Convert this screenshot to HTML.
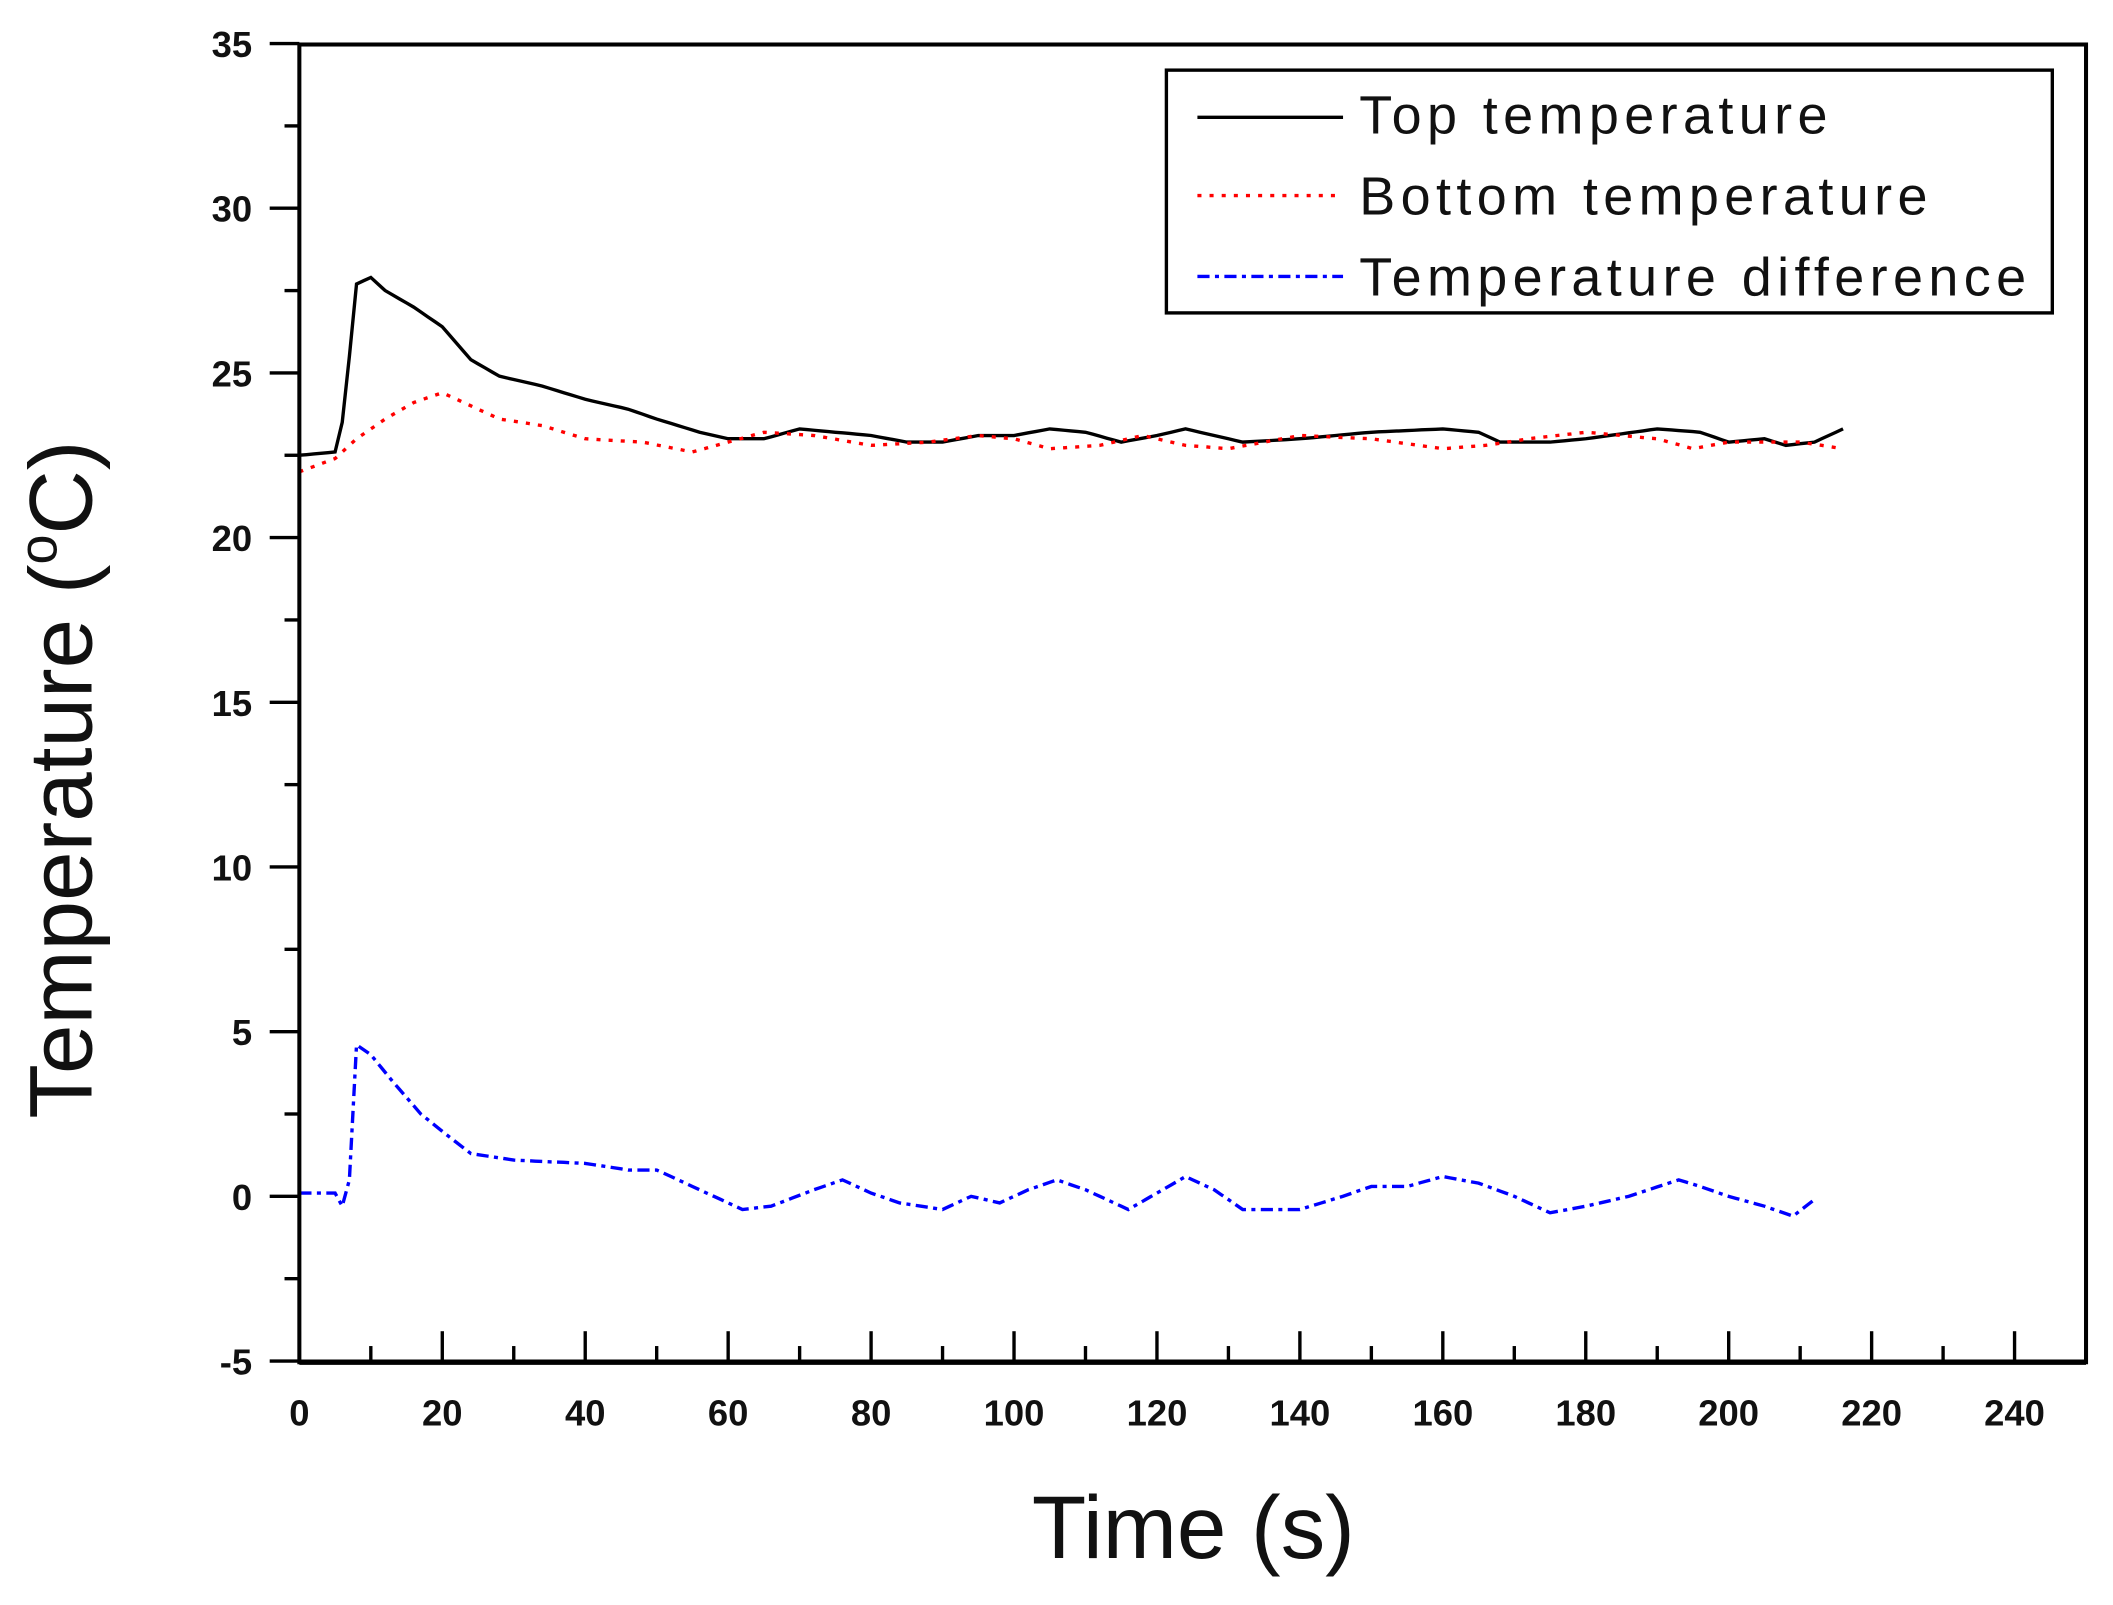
<!DOCTYPE html>
<html><head><meta charset="utf-8"><style>
html,body{margin:0;padding:0;background:#fff}
svg{display:block}
text{font-family:"Liberation Sans",Arial,sans-serif;fill:#111}
</style></head><body>
<svg id="s" width="2113" height="1605" viewBox="0 0 1567 1190" preserveAspectRatio="none" xmlns="http://www.w3.org/2000/svg">
<rect width="1567" height="1190" fill="#fff"/>
<g id="ticks" stroke="#000" stroke-width="2.5"></g>
<g id="series"></g>
<rect x="222" y="33" width="1325" height="977" fill="none" stroke="#000" stroke-width="3"/>
<line x1="222" y1="1010" x2="1547" y2="1010" stroke="#000" stroke-width="4"/>
<g id="labels" font-size="27" font-weight="bold"></g>
<rect x="865" y="52" width="657" height="180" fill="#fff" stroke="#000" stroke-width="2.5"/>
<line x1="888" y1="87" x2="996" y2="87" stroke="#000" stroke-width="2.5"/>
<line x1="888" y1="145" x2="996" y2="145" stroke="#f00" stroke-width="2.5" stroke-dasharray="3 6"/>
<line x1="888" y1="205" x2="996" y2="205" stroke="#00f" stroke-width="2.5" stroke-dasharray="9 4 3 4"/>
<text x="1008" y="99" font-size="40" letter-spacing="4">Top temperature</text>
<text x="1008" y="159" font-size="40" letter-spacing="4">Bottom temperature</text>
<text x="1008" y="219" font-size="40" letter-spacing="4">Temperature difference</text>
<text x="885" y="1155" font-size="66" text-anchor="middle">Time (s)</text>
<text transform="translate(68,578) rotate(-90)" font-size="66" text-anchor="middle">Temperature (<tspan font-size="40" dy="-26">o</tspan><tspan dy="26">C)</tspan></text>
</svg>
<script>
var NS="http://www.w3.org/2000/svg";
function X(t){return 222+t*5.3}
function Y(v){return 887-v*24.42}
var tk=document.getElementById('ticks'),lb=document.getElementById('labels');
function el(p,n,a,txt){var e=document.createElementNS(NS,n);for(var k in a)e.setAttribute(k,a[k]);if(txt!=null)e.textContent=txt;p.appendChild(e);return e}
for(var v=-5;v<=35;v+=2.5){var y=Y(v),maj=(v%5===0);
 el(tk,'line',{x1:maj?200:211,y1:y,x2:222,y2:y});
 if(maj)el(lb,'text',{x:187,y:y+10,'text-anchor':'end'},String(v));}
for(var t=0;t<=250;t+=10){var x=X(t),maj=(t%20===0);
 el(tk,'line',{x1:x,y1:1010,x2:x,y2:maj?987:998});
 if(maj&&t<=240)el(lb,'text',{x:x,y:1057,'text-anchor':'middle'},String(t));}
function interp(pts,step){var o=[];for(var i=0;i<pts.length-1;i++){var a=pts[i],b=pts[i+1];for(var t=a[0];t<b[0];t+=step){o.push([t,a[1]+(b[1]-a[1])*(t-a[0])/(b[0]-a[0])])}}o.push(pts[pts.length-1]);return o}
function path(pts,col,dash){var d=pts.map(function(p,i){return (i?'L':'M')+X(p[0]).toFixed(1)+' '+Y(p[1]).toFixed(1)}).join('');
 var a={d:d,fill:'none',stroke:col,'stroke-width':2.5};if(dash)a['stroke-dasharray']=dash;el(document.getElementById('series'),'path',a)}
var sTop=[[0,22.5],[5,22.6],[6,23.5],[7,25.5],[8,27.7],[10,27.9],[12,27.5],[16,27],[20,26.4],[24,25.4],[28,24.9],[34,24.6],[40,24.2],[46,23.9],[50,23.6],[56,23.2],[60,23],[65,23],[70,23.3],[80,23.1],[85,22.9],[90,22.9],[95,23.1],[100,23.1],[105,23.3],[110,23.2],[115,22.9],[120,23.1],[124,23.3],[128,23.1],[132,22.9],[140,23],[150,23.2],[160,23.3],[165,23.2],[168,22.9],[175,22.9],[180,23],[190,23.3],[196,23.2],[200,22.9],[205,23],[208,22.8],[212,22.9],[216,23.3]];
var sBot=[[0,22],[5,22.4],[8,23],[12,23.6],[16,24.1],[20,24.4],[24,24],[28,23.6],[34,23.4],[40,23],[48,22.9],[55,22.6],[60,22.9],[65,23.2],[72,23.1],[80,22.8],[88,22.9],[95,23.1],[100,23],[105,22.7],[112,22.8],[118,23.1],[124,22.8],[130,22.7],[140,23.1],[150,23],[160,22.7],[166,22.8],[172,23],[180,23.2],[190,23],[195,22.7],[200,22.9],[210,22.9],[216,22.7]];
var sDif=[[0,0.1],[5,0.1],[6,-0.3],[7,0.5],[8,4.6],[10,4.3],[13,3.5],[17,2.5],[21,1.8],[24,1.3],[30,1.1],[40,1],[46,0.8],[50,0.8],[55,0.3],[58,0],[62,-0.4],[66,-0.3],[72,0.2],[76,0.5],[80,0.1],[84,-0.2],[90,-0.4],[94,0],[98,-0.2],[102,0.2],[106,0.5],[110,0.2],[116,-0.4],[120,0.1],[124,0.6],[128,0.2],[132,-0.4],[140,-0.4],[146,0],[150,0.3],[155,0.3],[160,0.6],[165,0.4],[170,0],[175,-0.5],[180,-0.3],[186,0],[193,0.5],[196,0.3],[200,0],[205,-0.3],[209,-0.6],[212,-0.1]];
path(interp(sTop,1),'#000');
path(interp(sBot,1),'#f00','3 6');
path(interp(sDif,1),'#00f','9 4 3 4');
</script>
</body></html>
